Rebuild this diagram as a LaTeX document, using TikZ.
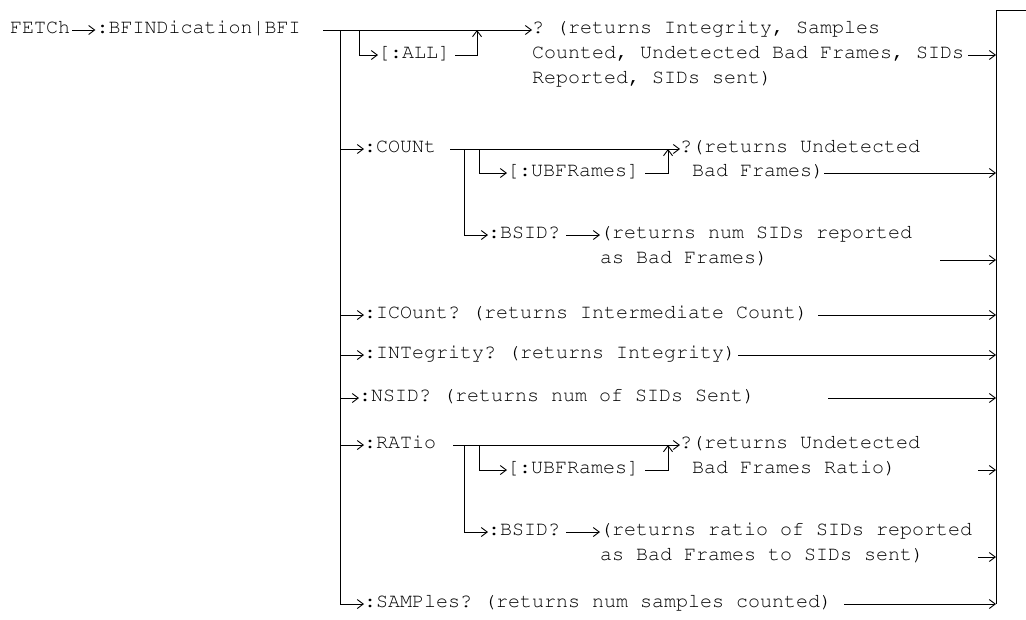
\documentclass[tikz,border=0pt]{standalone}
\usepackage[T1]{fontenc}
\usepackage{courier}
\usetikzlibrary{arrows.meta, positioning}

\begin{document}
\begin{tikzpicture}[
    x=1pt, y=-1pt,
    cmd/.style={font=\ttfamily\fontsize{20}{24}\selectfont\frenchspacing, inner sep=0pt, text height=11pt, text depth=4pt, anchor=west},
    arr/.style={-{Straight Barb[length=6pt, width=9pt]}, line width=0.9pt},
    ln/.style={line width=0.9pt},
  ]
    \useasboundingbox (0,0) rectangle (1026,619);
    \node[cmd] (fetch) at (10,30) {FETCh};
    \node[cmd, right=26pt of fetch] (bfi) {:BFINDication|BFI};
    \coordinate (hStart) at (323,30);
    \coordinate (busTop) at (340,30);
    \coordinate (rbTop) at (996,10);
    \coordinate (rbBot) at (996,604);
    \node[cmd] (all) at (378,55) {[:ALL]};
    \node[cmd] (allA) at (532,30) {? (returns Integrity, Samples};
    \node[cmd] (allB) at (532,55) {Counted, Undetected Bad Frames, SIDs};
    \node[cmd] (allC) at (532,80) {Reported, SIDs sent)};
    \node[cmd] (cnt) at (364,149) {:COUNt};
    \node[cmd] (cntU) at (507,173) {[:UBFRames]};
    \node[cmd] (cntA) at (680,149) {?(returns Undetected};
    \node[cmd] (cntB) at (692,173) {Bad Frames)};
    \node[cmd] (cntS) at (488,235) {:BSID?};
    \node[cmd] (cntSA) at (600,235) {(returns num SIDs reported};
    \node[cmd] (cntSB) at (600,260) {as Bad Frames)};
    \node[cmd] (icnt) at (364,315) {:ICOunt? (returns Intermediate Count)};
    \node[cmd] (intg) at (364,355) {:INTegrity? (returns Integrity)};
    \node[cmd] (nsid) at (359,398) {:NSID? (returns num of SIDs Sent)};
    \node[cmd] (rat) at (364,445) {:RATio};
    \node[cmd] (ratU) at (507,470) {[:UBFRames]};
    \node[cmd] (ratA) at (680,445) {?(returns Undetected};
    \node[cmd] (ratB) at (692,470) {Bad Frames Ratio)};
    \node[cmd] (ratS) at (488,532) {:BSID?};
    \node[cmd] (ratSA) at (600,532) {(returns ratio of SIDs reported};
    \node[cmd] (ratSB) at (600,557) {as Bad Frames to SIDs sent)};
    \node[cmd] (smp) at (364,604) {:SAMPles? (returns num samples counted)};
    \coordinate (allFork) at (359,30);
    \coordinate (allJoin) at (477,30);
    \coordinate (cntL) at (450,149);
    \coordinate (cntFork) at (464,149);
    \coordinate (cntUFork) at (479,149);
    \coordinate (cntUJoin) at (668,149);
    \coordinate (cntSEnd) at (940,260);
    \coordinate (nsidEnd) at (828,398);
    \coordinate (ratL) at (453,445);
    \coordinate (ratFork) at (464,445);
    \coordinate (ratUFork) at (479,445);
    \coordinate (ratUJoin) at (668,445);
    \coordinate (ratBEnd) at (978,470);
    \coordinate (ratSEnd) at (978,557);
    \draw[arr] ([xshift=2pt]fetch.east) -- ([xshift=-1pt]bfi.west);
    \draw[arr] (hStart) -- (allA.west);
    \draw[arr] (allFork) |- (all.west);
    \draw[arr] ([xshift=5pt]all.east) -| (allJoin);
    \draw[arr] ([xshift=4pt]allB.east) -- (allB.west -| rbTop);
    \draw[arr] (busTop) |- (smp.west);
    \draw[arr] (busTop |- cnt.west) -- (cnt.west);
    \draw[arr] (busTop |- icnt.west) -- (icnt.west);
    \draw[arr] (busTop |- intg.west) -- (intg.west);
    \draw[arr] (busTop |- nsid.west) -- (nsid.west);
    \draw[arr] (busTop |- rat.west) -- (rat.west);
    \draw[arr] (cntL) -- (cntA.west);
    \draw[arr] (cntFork) |- (cntS.west);
    \draw[arr] (cntUFork) |- (cntU.west);
    \draw[arr] ([xshift=6pt]cntU.east) -| (cntUJoin);
    \draw[arr] (cntB.east) -- (cntB.west -| rbTop);
    \draw[arr] ([xshift=6pt]cntS.east) -- (cntSA.west);
    \draw[arr] (cntSEnd) -- (cntSEnd -| rbTop);
    \draw[arr] ([xshift=10pt]icnt.east) -- (icnt.west -| rbTop);
    \draw[arr] ([xshift=2pt]intg.east) -- (intg.west -| rbTop);
    \draw[arr] (nsidEnd) -- (nsidEnd -| rbTop);
    \draw[arr] (ratL) -- (ratA.west);
    \draw[arr] (ratFork) |- (ratS.west);
    \draw[arr] (ratUFork) |- (ratU.west);
    \draw[arr] ([xshift=6pt]ratU.east) -| (ratUJoin);
    \draw[arr] (ratBEnd) -- (ratBEnd -| rbTop);
    \draw[arr] ([xshift=6pt]ratS.east) -- (ratSA.west);
    \draw[arr] (ratSEnd) -- (ratSEnd -| rbTop);
    \draw[arr] ([xshift=12pt]smp.east) -- (smp.west -| rbTop);
    \draw[ln] (1026,10) -- (rbTop) -- (rbBot);
  \end{tikzpicture}
\end{document}
